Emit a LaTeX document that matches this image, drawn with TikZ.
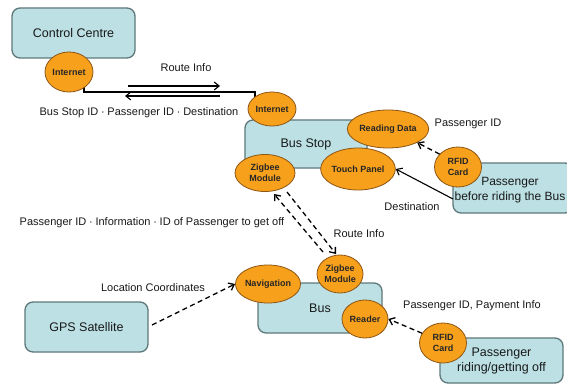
\documentclass[tikz,border=0pt]{standalone}
\usepackage{fontspec}
\setmainfont{Liberation Sans}
\usetikzlibrary{arrows.meta,shapes.geometric}
\definecolor{boxfill}{RGB}{188,224,228}
\definecolor{boxline}{RGB}{95,120,122}
\definecolor{ellfill}{RGB}{247,160,28}
\definecolor{ellline}{RGB}{140,85,20}
\definecolor{txt}{RGB}{25,25,25}
\newcommand{\mdot}{\hspace{0.25em}·\hspace{0.25em}}
\begin{document}
\begin{tikzpicture}[x=1pt,y=-1pt,
  sysbox/.style={draw=boxline, fill=boxfill, line width=1.3pt, rounded corners=8pt,
    inner sep=0pt, font=\fontsize{12.5}{15}\selectfont, text=txt, align=center},
  module/.style={ellipse, draw=ellline, fill=ellfill, line width=0.8pt, inner sep=0pt,
    font=\bfseries\fontsize{9}{10.5}\selectfont, text=black!85, align=center},
  lbl/.style={font=\fontsize{11}{13}\selectfont, text=txt, inner sep=0pt},
  arr/.style={-{Straight Barb[length=5pt,width=8pt]}, line width=1.1pt},
  darr/.style={arr, dash pattern=on 5pt off 3.5pt, line width=1.3pt}]
\useasboundingbox (0,0) rectangle (567,385);
\fill[white] (0,0) rectangle (567,385);

% boxes
\node[sysbox, minimum width=123pt, minimum height=50pt] (cc) at (73.5,33) {Control Centre};
\node[sysbox, minimum width=122pt, minimum height=48pt] (bs) at (306,144) {Bus Stop};
\node[sysbox, minimum width=120pt, minimum height=50pt] (pb) at (513,188) {};
\node[font=\fontsize{12}{15}\selectfont, text=txt, align=center, inner sep=0pt] (pbt) at (510,190) {Passenger\\before riding the Bus};
\node[sysbox, minimum width=124pt, minimum height=50pt] (bus) at (320,308) {Bus};
\node[sysbox, minimum width=123pt, minimum height=50pt] (gps) at (86.5,327) {GPS Satellite};
\node[sysbox, minimum width=123pt, minimum height=45pt] (pr) at (501.5,360.5) {Passenger\\riding/getting off};

% connector between the two Internet modules
\coordinate (c0) at (84,80);
\coordinate (c1) at (84,92);
\coordinate (c2) at (255,92);
\coordinate (c3) at (255,104);
\draw[line width=1.1pt] (c0) -- (c1) -- (c2) -- (c3);

% modules
\node[module, minimum width=48pt, minimum height=40pt] (inet1) at (69,72) {Internet};
\node[module, minimum width=48pt, minimum height=34pt] (inet2) at (272,109) {Internet};
\node[module, minimum width=65pt, minimum height=38pt] (rd) at (388,129) {Reading Data};
\node[module, minimum width=60pt, minimum height=42pt] (tp) at (358,169) {Touch Panel};
\node[module, minimum width=60pt, minimum height=37pt] (zb1) at (265,173) {Zigbee\\Module};
\node[module, minimum width=47pt, minimum height=40pt] (rf1) at (458,167) {RFID\\Card};
\node[module, minimum width=46pt, minimum height=38pt] (zb2) at (340,274) {Zigbee\\Module};
\node[module, minimum width=57pt, minimum height=38pt] (nav) at (268,284) {Navigation};
\node[module, minimum width=46pt, minimum height=38pt] (rdr) at (365,319) {Reader};
\node[module, minimum width=47pt, minimum height=40pt] (rf2) at (443,343) {RFID\\Card};

% Route info arrows between control centre and bus stop
\coordinate (r1) at (128,86);
\coordinate (r2) at (220,86);
\coordinate (l1) at (220,96);
\coordinate (l2) at (125,96);
\draw[arr] (r1) -- (r2);
\draw[arr] (l1) -- (l2);
\node[lbl] (lr) at (186,68) {Route Info};
\node[lbl] (lb) at (139,113) {Bus Stop ID\mdot Passenger ID\mdot Destination};

% bus stop inputs
\draw[darr] (rf1.145) -- (rd.-25);
\coordinate (pbl) at (453,199);
\draw[arr] (pbl) -- (tp.east);
\node[lbl] (lpid) at (468,124) {Passenger ID};
\node[lbl] (ldest) at (412,207) {Destination};

% zigbee link
\coordinate (za) at (287,192);
\coordinate (zb) at (336,254);
\coordinate (zc) at (323,252);
\coordinate (zd) at (274,194);
\draw[darr] (za) -- (zb);
\draw[darr] (zc) -- (zd);
\node[lbl] (lpinfo) at (152,223) {Passenger ID\mdot Information\mdot ID of Passenger to get off};
\node[lbl] (lrb) at (359,234) {Route Info};

% GPS
\coordinate (g1) at (152,325);
\draw[darr] (g1) -- (nav.west);
\node[lbl] (lloc) at (153,288) {Location Coordinates};

% bus reader
\draw[darr] (rf2.155) -- (rdr.east);
\node[lbl] (lpay) at (472,306) {Passenger ID, Payment Info};
\end{tikzpicture}
\end{document}
